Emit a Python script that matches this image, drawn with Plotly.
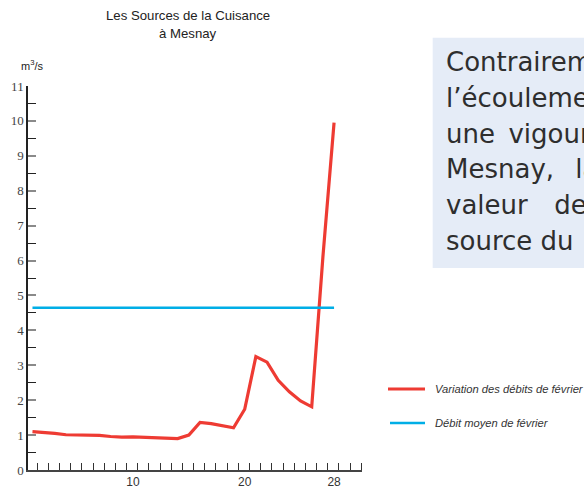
import plotly.graph_objects as go

# ---- data ----
days = list(range(1, 29))
debits_fevrier = [1.10, 1.08, 1.05, 1.01, 1.01, 1.01, 0.99, 0.96, 0.94, 0.95, 0.94, 0.92,
                  0.90, 0.90, 1.00, 1.36, 1.33, 1.27, 1.21, 1.74, 3.25, 3.09, 2.57, 2.24,
                  1.98, 1.81, 6.10, 9.95]
debit_moyen = 4.65
moyen_days = [days[0], days[-1]]
moyen_values = [debit_moyen, debit_moyen]

x_tick_vals = [10, 20, 28]
x_tick_text = ["10", "20", "28"]
y_tick_vals = list(range(0, 12))
y_tick_text = [str(v) for v in y_tick_vals]

title_lines = ["Les Sources de la Cuisance", "à Mesnay"]
unit_label = "m<sup>3</sup>/s"
legend_labels = ["Variation des débits de février", "Débit moyen de février"]
side_text_lines = [
    "Contrairement à",
    "l’écoulement de",
    "une\u00a0\u2009vigoureuse",
    "Mesnay,\u00a0\u2002la",
    "valeur\u00a0\u2002\u2009de",
    "source du",
]

RED = "#ee3b33"
BLUE = "#00aee6"
SANS = "Liberation Sans, Arial, sans-serif"

# ---- geometry (pixels) ----
W, H = 584, 487
ML, MR, MT, MB = 28, 222, 86, 17
PW, PH = W - ML - MR, H - MT - MB


def px(xp):
    return (xp - ML) / PW


def py(yp):
    return (H - MB - yp) / PH


fig = go.Figure()
fig.add_trace(go.Scatter(x=days, y=debits_fevrier, mode="lines", name=legend_labels[0],
                         line=dict(color=RED, width=3.2), showlegend=False))
fig.add_trace(go.Scatter(x=moyen_days, y=moyen_values, mode="lines", name=legend_labels[1],
                         line=dict(color=BLUE, width=2.5), showlegend=False))

annotations = []
# title
for t, yc in zip(title_lines, [16, 33.5]):
    annotations.append(dict(text=t, x=px(188), y=py(yc), xref="paper", yref="paper",
                            xanchor="center", yanchor="middle", showarrow=False,
                            font=dict(family=SANS, size=13.2, color="#222")))
# unit
annotations.append(dict(text=unit_label, x=px(32), y=py(65), xref="paper", yref="paper",
                        xanchor="center", yanchor="middle", showarrow=False,
                        font=dict(family=SANS, size=11, color="#222")))
# side text
for i, t in enumerate(side_text_lines):
    baseline = 71 + i * 35.8
    annotations.append(dict(text=t, x=px(444), y=py(baseline - 9), xref="paper", yref="paper",
                            xanchor="left", yanchor="middle", showarrow=False,
                            font=dict(family="DejaVu Sans", size=26, color="#2e2e2e")))
# legend text
for t, yc in zip(legend_labels, [389, 423]):
    annotations.append(dict(text=t, x=px(433), y=py(yc), xref="paper", yref="paper",
                            xanchor="left", yanchor="middle", showarrow=False,
                            font=dict(family=SANS, size=11.2, color="#333", style="italic")))

shapes = [
    dict(type="rect", xref="paper", yref="paper", x0=px(432.7), x1=px(700), y0=py(268), y1=py(37.7),
         fillcolor="#e5ecf7", line=dict(width=0), layer="below"),
    dict(type="line", xref="paper", yref="paper", x0=px(388), x1=px(425), y0=py(389), y1=py(389),
         line=dict(color=RED, width=3)),
    dict(type="line", xref="paper", yref="paper", x0=px(390), x1=px(425), y0=py(423), y1=py(423),
         line=dict(color=BLUE, width=2.5)),
]

x0 = 0.6
px_per_day = 11.17
fig.update_layout(
    width=W, height=H,
    margin=dict(l=ML, r=MR, t=MT, b=MB, pad=0, autoexpand=False),
    paper_bgcolor="white", plot_bgcolor="white",
    showlegend=False,
    annotations=annotations,
    shapes=shapes,
    xaxis=dict(range=[x0, x0 + PW / px_per_day], showgrid=False, zeroline=False, automargin=False,
               showline=True, linecolor="#444", linewidth=1.5,
               tickmode="array", tickvals=x_tick_vals, ticktext=x_tick_text, ticks="",
               tickfont=dict(family=SANS, size=12, color="#333"),
               minor=dict(tick0=1.43, dtick=1, ticks="inside", ticklen=7, tickwidth=1,
                          tickcolor="#333", showgrid=False)),
    yaxis=dict(range=[0, 11], showgrid=False, zeroline=False, automargin=False,
               showline=True, linecolor="#222", linewidth=1.5,
               tickmode="array", tickvals=y_tick_vals, ticktext=y_tick_text,
               ticks="inside", ticklen=8, tickwidth=2, tickcolor="#8a8a8a",
               tickfont=dict(family="Liberation Serif, Times New Roman, serif", size=13, color="#444"),
               minor=dict(dtick=0.5, ticks="inside", ticklen=8, tickwidth=1,
                          tickcolor="#222", showgrid=False)),
)

fig.write_html("out.html", config={"displayModeBar": False},
               post_script="document.body.style.margin='0';document.body.style.overflow='hidden';")
